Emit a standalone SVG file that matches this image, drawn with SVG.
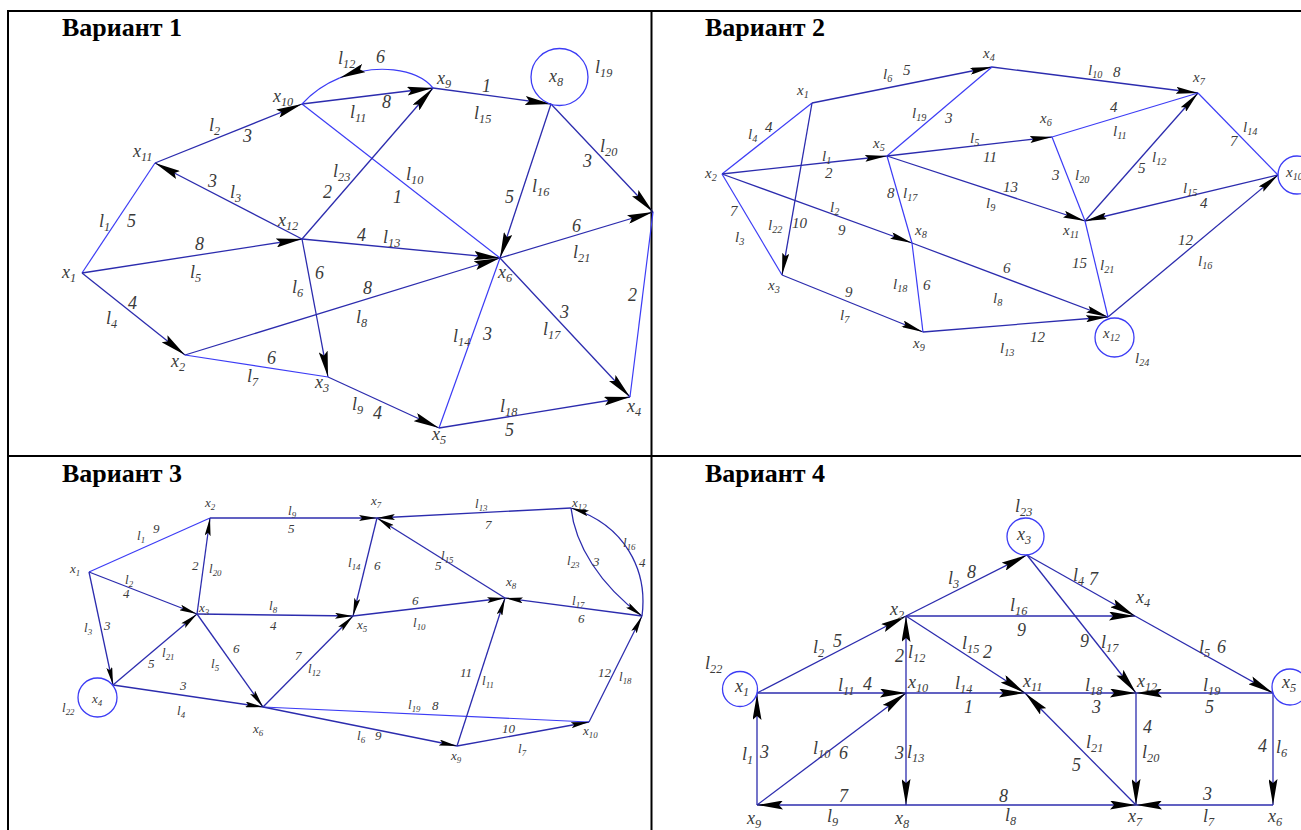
<svg xmlns="http://www.w3.org/2000/svg" width="1301" height="830" viewBox="0 0 1301 830">
<style>
.bd{stroke:#000;stroke-width:2;fill:none}
.e{stroke:#2c2cae;stroke-width:1.3;fill:none}
.p{stroke:#3c3cf5;stroke-width:1.2;fill:none}
.c{stroke:#3c3cf5;stroke-width:1.3;fill:none}
.a1{marker-end:url(#a1)}
.a2{marker-end:url(#a2)}
.a3{marker-end:url(#a3)}
.h{font-family:"Liberation Serif",serif;font-weight:bold;font-size:26px;fill:#000}
.lab{font-family:"Liberation Serif",serif;font-style:italic;fill:#3a3a3a}
.s{font-size:68%}
</style>
<defs>
<marker id="a1" viewBox="0 0 26 9" refX="26" refY="4.5" markerWidth="26" markerHeight="9" markerUnits="userSpaceOnUse" orient="auto"><path d="M0,0 L26,4.5 L0,9 L4,4.5 Z" fill="#000"/></marker>
<marker id="a2" viewBox="0 0 22 7" refX="22" refY="3.5" markerWidth="22" markerHeight="7" markerUnits="userSpaceOnUse" orient="auto"><path d="M0,0 L22,3.5 L0,7 L3,3.5 Z" fill="#000"/></marker>
<marker id="a3" viewBox="0 0 18 6" refX="18" refY="3" markerWidth="18" markerHeight="6" markerUnits="userSpaceOnUse" orient="auto"><path d="M0,0 L18,3 L0,6 L3,3 Z" fill="#000"/></marker>
</defs>
<rect x="0" y="0" width="1301" height="830" fill="#fff"/>
<g id="table">
<line class="bd" x1="8" y1="11" x2="1301" y2="11"/>
<line class="bd" x1="8" y1="10" x2="8" y2="830"/>
<line class="bd" x1="651.5" y1="10" x2="651.5" y2="830"/>
<line class="bd" x1="8" y1="456" x2="1301" y2="456"/>
<text class="h" x="62" y="36">Вариант 1</text>
<text class="h" x="705" y="36">Вариант 2</text>
<text class="h" x="62" y="482">Вариант 3</text>
<text class="h" x="705" y="482">Вариант 4</text>
</g>

<!-- ===== Variant 1 ===== -->
<g id="v1-connectors">
<path class="p" d="M82,273 L155,163"/>
<path class="e a1" d="M155,163 L302,104"/>
<path class="e a1" d="M302,239 L155,163"/>
<path class="e a1" d="M82,273 L302,239"/>
<path class="e a1" d="M82,273 L185,355"/>
<path class="e a1" d="M302,239 L328,377"/>
<path class="p" d="M185,355 L328,377"/>
<path class="e a1" d="M185,355 L500,258"/>
<path class="e a1" d="M328,377 L439,428"/>
<path class="p" d="M439,428 L500,258"/>
<path class="e a1" d="M500,258 L630,397"/>
<path class="e a1" d="M439,428 L630,397"/>
<path class="p" d="M630,397 L653,212"/>
<path class="e a1" d="M302,239 L500,258"/>
<path class="e a1" d="M500,258 L653,212"/>
<path class="p" d="M302,104 L500,258"/>
<path class="e a1" d="M302,239 L433,88"/>
<path class="e a1" d="M302,104 L433,88"/>
<path class="p a1" d="M433,88 C416.44,67.84 375.52,63.23 339.71,77.91"/>
<path class="p" d="M339.71,77.91 C325.79,83.62 312.64,92.24 302,104"/>
<path class="e a1" d="M433,88 L551,104"/>
<path class="e a1" d="M551,104 L500,258"/>
<path class="e a1" d="M551,104 L653,212"/>
</g>
<g id="v1-nodes" class="lab" font-size="18">
<g id="v1-x1"><text x="62" y="278">x<tspan class="s" dy="4">1</tspan></text></g>
<g id="v1-x2"><text x="171" y="367">x<tspan class="s" dy="4">2</tspan></text></g>
<g id="v1-x3"><text x="315" y="388">x<tspan class="s" dy="4">3</tspan></text></g>
<g id="v1-x4"><text x="627" y="412">x<tspan class="s" dy="4">4</tspan></text></g>
<g id="v1-x5"><text x="432" y="440">x<tspan class="s" dy="4">5</tspan></text></g>
<g id="v1-x6"><text x="498" y="278">x<tspan class="s" dy="4">6</tspan></text></g>
<g id="v1-x8"><circle class="c" cx="559.5" cy="77" r="28.5"/><text x="549" y="82">x<tspan class="s" dy="4">8</tspan></text><text x="595" y="73">l<tspan class="s" dy="4">19</tspan></text></g>
<g id="v1-x9"><text x="437" y="84">x<tspan class="s" dy="4">9</tspan></text></g>
<g id="v1-x10"><text x="273" y="102">x<tspan class="s" dy="4">10</tspan></text></g>
<g id="v1-x11"><text x="133" y="157">x<tspan class="s" dy="4">11</tspan></text></g>
<g id="v1-x12"><text x="278" y="226">x<tspan class="s" dy="4">12</tspan></text></g>
</g>
<g id="v1-edge-labels" class="lab" font-size="18">
<text x="99" y="227">l<tspan class="s" dy="4">1</tspan></text><text x="127" y="227">5</text>
<text x="209" y="131">l<tspan class="s" dy="4">2</tspan></text><text x="243" y="142">3</text>
<text x="208" y="187">3</text><text x="230" y="198">l<tspan class="s" dy="4">3</tspan></text>
<text x="195" y="250">8</text><text x="190" y="278">l<tspan class="s" dy="4">5</tspan></text>
<text x="128" y="309">4</text><text x="106" y="324">l<tspan class="s" dy="4">4</tspan></text>
<text x="292" y="293">l<tspan class="s" dy="4">6</tspan></text><text x="315" y="279">6</text>
<text x="267" y="364">6</text><text x="247" y="382">l<tspan class="s" dy="4">7</tspan></text>
<text x="363" y="294">8</text><text x="356" y="323">l<tspan class="s" dy="4">8</tspan></text>
<text x="352" y="410">l<tspan class="s" dy="4">9</tspan></text><text x="373" y="419">4</text>
<text x="453" y="342">l<tspan class="s" dy="4">14</tspan></text><text x="483" y="340">3</text>
<text x="560" y="318">3</text><text x="543" y="335">l<tspan class="s" dy="4">17</tspan></text>
<text x="500" y="412">l<tspan class="s" dy="4">18</tspan></text><text x="505" y="436">5</text>
<text x="628" y="301">2</text>
<text x="357" y="241">4</text><text x="383" y="243">l<tspan class="s" dy="4">13</tspan></text>
<text x="572" y="232">6</text><text x="573" y="258">l<tspan class="s" dy="4">21</tspan></text>
<text x="406" y="180">l<tspan class="s" dy="4">10</tspan></text><text x="393" y="203">1</text>
<text x="333" y="177">l<tspan class="s" dy="4">23</tspan></text><text x="323" y="198">2</text>
<text x="350" y="118">l<tspan class="s" dy="4">11</tspan></text><text x="382" y="108">8</text>
<text x="338" y="64">l<tspan class="s" dy="4">12</tspan></text><text x="376" y="63">6</text>
<text x="482" y="92">1</text><text x="474" y="119">l<tspan class="s" dy="4">15</tspan></text>
<text x="532" y="192">l<tspan class="s" dy="4">16</tspan></text><text x="505" y="203">5</text>
<text x="600" y="152">l<tspan class="s" dy="4">20</tspan></text><text x="583" y="167">3</text>
</g>

<!-- ===== Variant 2 ===== -->
<g id="v2-connectors">
<path class="p" d="M722,174 L812,103"/>
<path class="e a2" d="M812,103 L992,67"/>
<path class="e a2" d="M722,174 L887,156"/>
<path class="e a2" d="M722,174 L912,243"/>
<path class="p" d="M722,174 L782,275"/>
<path class="e a2" d="M812,103 L782,275"/>
<path class="e a2" d="M782,275 L923,332"/>
<path class="p" d="M887,156 L912,243"/>
<path class="p" d="M912,243 L923,332"/>
<path class="p" d="M887,156 L992,67"/>
<path class="e a2" d="M887,156 L1052,137"/>
<path class="e a2" d="M887,156 L1085,221"/>
<path class="e a2" d="M912,243 L1108,317"/>
<path class="e a2" d="M923,332 L1108,317"/>
<path class="e a2" d="M992,67 L1198,93"/>
<path class="p" d="M1052,137 L1198,93"/>
<path class="p" d="M1052,137 L1085,221"/>
<path class="e a2" d="M1085,221 L1198,93"/>
<path class="p" d="M1198,93 L1278,175"/>
<path class="e a2" d="M1278,175 L1085,221"/>
<path class="p" d="M1085,221 L1108,317"/>
<path class="e a2" d="M1108,317 L1278,175"/>
</g>
<g id="v2-nodes" class="lab" font-size="15">
<g id="v2-x1"><text x="797" y="95">x<tspan class="s" dy="3">1</tspan></text></g>
<g id="v2-x2"><text x="705" y="178">x<tspan class="s" dy="3">2</tspan></text></g>
<g id="v2-x3"><text x="768" y="290">x<tspan class="s" dy="3">3</tspan></text></g>
<g id="v2-x4"><text x="983" y="58">x<tspan class="s" dy="3">4</tspan></text></g>
<g id="v2-x5"><text x="873" y="148">x<tspan class="s" dy="3">5</tspan></text></g>
<g id="v2-x6"><text x="1040" y="123">x<tspan class="s" dy="3">6</tspan></text></g>
<g id="v2-x7"><text x="1193" y="82">x<tspan class="s" dy="3">7</tspan></text></g>
<g id="v2-x8"><text x="915" y="235">x<tspan class="s" dy="3">8</tspan></text></g>
<g id="v2-x9"><text x="913" y="348">x<tspan class="s" dy="3">9</tspan></text></g>
<g id="v2-x10"><circle class="c" cx="1297" cy="175" r="19"/><text x="1286" y="177">x<tspan class="s" dy="3">10</tspan></text></g>
<g id="v2-x11"><text x="1063" y="235">x<tspan class="s" dy="3">11</tspan></text></g>
<g id="v2-x12"><circle class="c" cx="1114.5" cy="337.5" r="19.5"/><text x="1103" y="338">x<tspan class="s" dy="3">12</tspan></text><text x="1135" y="363">l<tspan class="s" dy="3">24</tspan></text></g>
</g>
<g id="v2-edge-labels" class="lab" font-size="15">
<text x="748" y="139">l<tspan class="s" dy="3">4</tspan></text><text x="765" y="132">4</text>
<text x="883" y="79">l<tspan class="s" dy="3">6</tspan></text><text x="903" y="75">5</text>
<text x="822" y="161">l<tspan class="s" dy="3">1</tspan></text><text x="825" y="178">2</text>
<text x="830" y="212">l<tspan class="s" dy="3">2</tspan></text><text x="838" y="235">9</text>
<text x="730" y="216">7</text><text x="735" y="242">l<tspan class="s" dy="3">3</tspan></text>
<text x="768" y="230">l<tspan class="s" dy="3">22</tspan></text><text x="792" y="228">10</text>
<text x="845" y="297">9</text><text x="840" y="320">l<tspan class="s" dy="3">7</tspan></text>
<text x="887" y="198">8</text><text x="903" y="198">l<tspan class="s" dy="3">17</tspan></text>
<text x="893" y="289">l<tspan class="s" dy="3">18</tspan></text><text x="923" y="290">6</text>
<text x="912" y="118">l<tspan class="s" dy="3">19</tspan></text><text x="945" y="123">3</text>
<text x="970" y="143">l<tspan class="s" dy="3">5</tspan></text><text x="983" y="162">11</text>
<text x="1003" y="192">13</text><text x="986" y="208">l<tspan class="s" dy="3">9</tspan></text>
<text x="1003" y="273">6</text><text x="993" y="303">l<tspan class="s" dy="3">8</tspan></text>
<text x="1000" y="353">l<tspan class="s" dy="3">13</tspan></text><text x="1030" y="342">12</text>
<text x="1088" y="75">l<tspan class="s" dy="3">10</tspan></text><text x="1113" y="77">8</text>
<text x="1110" y="112">4</text><text x="1113" y="136">l<tspan class="s" dy="3">11</tspan></text>
<text x="1052" y="180">3</text><text x="1075" y="180">l<tspan class="s" dy="3">20</tspan></text>
<text x="1152" y="162">l<tspan class="s" dy="3">12</tspan></text><text x="1138" y="173">5</text>
<text x="1243" y="132">l<tspan class="s" dy="3">14</tspan></text><text x="1230" y="146">7</text>
<text x="1183" y="193">l<tspan class="s" dy="3">15</tspan></text><text x="1200" y="208">4</text>
<text x="1072" y="268">15</text><text x="1100" y="270">l<tspan class="s" dy="3">21</tspan></text>
<text x="1178" y="245">12</text><text x="1198" y="266">l<tspan class="s" dy="3">16</tspan></text>
</g>

<!-- ===== Variant 3 ===== -->
<g id="v3-connectors">
<path class="p" d="M89,572 L210,518"/>
<path class="e a3" d="M89,572 L197,614"/>
<path class="e a3" d="M89,572 L113,685"/>
<path class="e a3" d="M197,614 L210,518"/>
<path class="e a3" d="M113,685 L197,614"/>
<path class="e a3" d="M113,685 L263,707"/>
<path class="e a3" d="M197,614 L263,707"/>
<path class="e a3" d="M197,614 L353,616"/>
<path class="e a3" d="M210,518 L377,518"/>
<path class="e a3" d="M263,707 L353,616"/>
<path class="p" d="M263,707 L589,722"/>
<path class="e a3" d="M263,707 L457,746"/>
<path class="e a3" d="M457,746 L589,722"/>
<path class="e a3" d="M353,616 L505,598"/>
<path class="e a3" d="M377,518 L353,616"/>
<path class="e a3" d="M505,598 L377,518"/>
<path class="e a3" d="M571,508 L377,518"/>
<path class="e a3" d="M457,746 L505,598"/>
<path class="e a3" d="M642,616 L505,598"/>
<path class="e a3" d="M589,722 L642,616"/>
<path class="e a3" d="M571,508 C575,545 600,585 642,616"/>
<path class="e a3" d="M642,616 C648,570 625,525 571,508"/>
</g>
<g id="v3-nodes" class="lab" font-size="13">
<g id="v3-x1"><text x="70" y="573">x<tspan class="s" dy="3">1</tspan></text></g>
<g id="v3-x2"><text x="205" y="507">x<tspan class="s" dy="3">2</tspan></text></g>
<g id="v3-x3"><text x="199" y="612">x<tspan class="s" dy="3">3</tspan></text></g>
<g id="v3-x4"><circle class="c" cx="97.5" cy="697.5" r="19.5"/><text x="92" y="703">x<tspan class="s" dy="3">4</tspan></text><text x="62" y="712">l<tspan class="s" dy="3">22</tspan></text></g>
<g id="v3-x5"><text x="357" y="629">x<tspan class="s" dy="3">5</tspan></text></g>
<g id="v3-x6"><text x="253" y="733">x<tspan class="s" dy="3">6</tspan></text></g>
<g id="v3-x7"><text x="371" y="505">x<tspan class="s" dy="3">7</tspan></text></g>
<g id="v3-x8"><text x="506" y="586">x<tspan class="s" dy="3">8</tspan></text></g>
<g id="v3-x9"><text x="451" y="760">x<tspan class="s" dy="3">9</tspan></text></g>
<g id="v3-x10"><text x="583" y="735">x<tspan class="s" dy="3">10</tspan></text></g>
<g id="v3-x12"><text x="572" y="507">x<tspan class="s" dy="3">12</tspan></text></g>
</g>
<g id="v3-edge-labels" class="lab" font-size="13">
<text x="137" y="540">l<tspan class="s" dy="3">1</tspan></text><text x="153" y="533">9</text>
<text x="125" y="584">l<tspan class="s" dy="3">2</tspan></text><text x="123" y="598">4</text>
<text x="84" y="632">l<tspan class="s" dy="3">3</tspan></text><text x="104" y="630">3</text>
<text x="192" y="570">2</text><text x="209" y="573">l<tspan class="s" dy="3">20</tspan></text>
<text x="162" y="657">l<tspan class="s" dy="3">21</tspan></text><text x="148" y="668">5</text>
<text x="180" y="690">3</text><text x="177" y="715">l<tspan class="s" dy="3">4</tspan></text>
<text x="211" y="668">l<tspan class="s" dy="3">5</tspan></text><text x="233" y="653">6</text>
<text x="269" y="610">l<tspan class="s" dy="3">8</tspan></text><text x="270" y="630">4</text>
<text x="288" y="515">l<tspan class="s" dy="3">9</tspan></text><text x="288" y="533">5</text>
<text x="295" y="660">7</text><text x="308" y="673">l<tspan class="s" dy="3">12</tspan></text>
<text x="408" y="709">l<tspan class="s" dy="3">19</tspan></text><text x="432" y="710">8</text>
<text x="357" y="740">l<tspan class="s" dy="3">6</tspan></text><text x="375" y="740">9</text>
<text x="502" y="733">10</text><text x="518" y="753">l<tspan class="s" dy="3">7</tspan></text>
<text x="412" y="605">6</text><text x="413" y="627">l<tspan class="s" dy="3">10</tspan></text>
<text x="348" y="567">l<tspan class="s" dy="3">14</tspan></text><text x="374" y="570">6</text>
<text x="441" y="560">l<tspan class="s" dy="3">15</tspan></text><text x="435" y="570">5</text>
<text x="475" y="508">l<tspan class="s" dy="3">13</tspan></text><text x="485" y="529">7</text>
<text x="460" y="677">11</text><text x="482" y="685">l<tspan class="s" dy="3">11</tspan></text>
<text x="572" y="605">l<tspan class="s" dy="3">17</tspan></text><text x="578" y="623">6</text>
<text x="598" y="677">12</text><text x="619" y="681">l<tspan class="s" dy="3">18</tspan></text>
<text x="567" y="565">l<tspan class="s" dy="3">23</tspan></text><text x="593" y="566">3</text>
<text x="623" y="547">l<tspan class="s" dy="3">16</tspan></text><text x="639" y="567">4</text>
</g>

<!-- ===== Variant 4 ===== -->
<g id="v4-connectors">
<path class="e a1" d="M757,805 L757,694"/>
<path class="e a1" d="M757,693 L906,616"/>
<path class="e a1" d="M757,693 L906,693"/>
<path class="e a1" d="M757,805 L906,693"/>
<path class="e a1" d="M906,805 L757,805"/>
<path class="e a1" d="M906,693 L906,805"/>
<path class="e a1" d="M906,693 L906,616"/>
<path class="e a1" d="M906,693 L1025,693"/>
<path class="e a1" d="M906,616 L1027,555"/>
<path class="e a1" d="M906,616 L1135,616"/>
<path class="e a1" d="M906,616 L1025,693"/>
<path class="e a1" d="M1027,555 L1135,616"/>
<path class="e a1" d="M1027,555 L1136,693"/>
<path class="e a1" d="M1135,616 L1273,693"/>
<path class="e a1" d="M1025,693 L1136,693"/>
<path class="e a1" d="M1273,693 L1136,693"/>
<path class="e a1" d="M1136,693 L1136,805"/>
<path class="e a1" d="M1273,693 L1273,805"/>
<path class="e a1" d="M1136,805 L1025,693"/>
<path class="e a1" d="M906,805 L1136,805"/>
<path class="e a1" d="M1273,805 L1136,805"/>
</g>
<g id="v4-nodes" class="lab" font-size="18">
<g id="v4-x1"><circle class="c" cx="740" cy="689" r="17.5"/><text x="735" y="692">x<tspan class="s" dy="4">1</tspan></text><text x="705" y="669">l<tspan class="s" dy="4">22</tspan></text></g>
<g id="v4-x2"><text x="890" y="615">x<tspan class="s" dy="4">2</tspan></text></g>
<g id="v4-x3"><circle class="c" cx="1025.5" cy="536.5" r="18.5"/><text x="1017" y="540">x<tspan class="s" dy="4">3</tspan></text><text x="1015" y="512">l<tspan class="s" dy="4">23</tspan></text></g>
<g id="v4-x4"><text x="1136" y="603">x<tspan class="s" dy="4">4</tspan></text></g>
<g id="v4-x5"><circle class="c" cx="1290" cy="687" r="18"/><text x="1282" y="688">x<tspan class="s" dy="4">5</tspan></text></g>
<g id="v4-x6"><text x="1268" y="822">x<tspan class="s" dy="4">6</tspan></text></g>
<g id="v4-x7"><text x="1128" y="822">x<tspan class="s" dy="4">7</tspan></text></g>
<g id="v4-x8"><text x="895" y="824">x<tspan class="s" dy="4">8</tspan></text></g>
<g id="v4-x9"><text x="747" y="824">x<tspan class="s" dy="4">9</tspan></text></g>
<g id="v4-x10"><text x="908" y="688">x<tspan class="s" dy="4">10</tspan></text></g>
<g id="v4-x11"><text x="1023" y="687">x<tspan class="s" dy="4">11</tspan></text></g>
<g id="v4-x12"><text x="1137" y="687">x<tspan class="s" dy="4">12</tspan></text></g>
</g>
<g id="v4-edge-labels" class="lab" font-size="18">
<text x="742" y="760">l<tspan class="s" dy="4">1</tspan></text><text x="760" y="758">3</text>
<text x="813" y="653">l<tspan class="s" dy="4">2</tspan></text><text x="833" y="647">5</text>
<text x="838" y="691">l<tspan class="s" dy="4">11</tspan></text><text x="863" y="690">4</text>
<text x="813" y="754">l<tspan class="s" dy="4">10</tspan></text><text x="839" y="759">6</text>
<text x="839" y="802">7</text><text x="827" y="822">l<tspan class="s" dy="4">9</tspan></text>
<text x="895" y="759">3</text><text x="907" y="758">l<tspan class="s" dy="4">13</tspan></text>
<text x="895" y="662">2</text><text x="908" y="658">l<tspan class="s" dy="4">12</tspan></text>
<text x="955" y="689">l<tspan class="s" dy="4">14</tspan></text><text x="964" y="713">1</text>
<text x="948" y="584">l<tspan class="s" dy="4">3</tspan></text><text x="967" y="578">8</text>
<text x="962" y="649">l<tspan class="s" dy="4">15</tspan></text><text x="983" y="658">2</text>
<text x="1010" y="611">l<tspan class="s" dy="4">16</tspan></text><text x="1017" y="636">9</text>
<text x="1073" y="581">l<tspan class="s" dy="4">4</tspan></text><text x="1089" y="585">7</text>
<text x="1080" y="647">9</text><text x="1101" y="648">l<tspan class="s" dy="4">17</tspan></text>
<text x="1199" y="653">l<tspan class="s" dy="4">5</tspan></text><text x="1217" y="653">6</text>
<text x="1085" y="691">l<tspan class="s" dy="4">18</tspan></text><text x="1092" y="713">3</text>
<text x="1203" y="691">l<tspan class="s" dy="4">19</tspan></text><text x="1205" y="713">5</text>
<text x="1143" y="733">4</text><text x="1142" y="758">l<tspan class="s" dy="4">20</tspan></text>
<text x="1258" y="752">4</text><text x="1276" y="753">l<tspan class="s" dy="4">6</tspan></text>
<text x="1086" y="748">l<tspan class="s" dy="4">21</tspan></text><text x="1072" y="771">5</text>
<text x="999" y="802">8</text><text x="1005" y="821">l<tspan class="s" dy="4">8</tspan></text>
<text x="1203" y="800">3</text><text x="1203" y="822">l<tspan class="s" dy="4">7</tspan></text>
</g>
</svg>
